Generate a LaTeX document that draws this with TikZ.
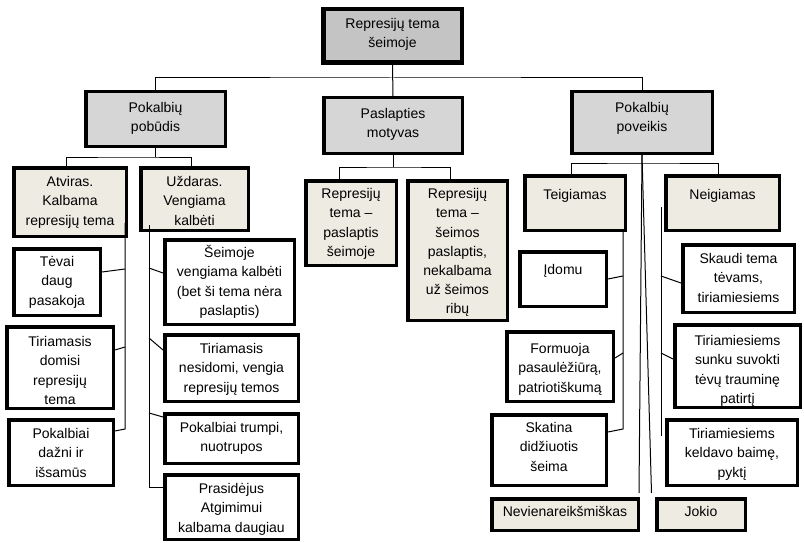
\documentclass[tikz,border=0pt]{standalone}
\usepackage{fontspec}
\setmainfont{Liberation Sans}
\definecolor{virsus}{HTML}{C4C4C4}
\definecolor{pilka}{HTML}{D6D6D6}
\definecolor{smelis}{HTML}{EEECE2}
\begin{document}
\begin{tikzpicture}[x=1pt,y=-1pt,
  kaste/.style={draw, line width=3.5pt, inner sep=0pt},
  tekstas/.style={align=center, inner sep=0pt, anchor=north, font=\fontsize{14}{19.2}\selectfont},
  jungtis/.style={line width=1pt}]
\useasboundingbox (0,0) rectangle (804,543);
% Top box of the tree
\node[kaste, line width=4.5pt, fill=virsus, minimum width=138.5, minimum height=53.5] (sakn) at (392.5,36) {};
\node[tekstas] (sakn-t) at ([yshift=-8pt]sakn.north) {\strut Represijų tema\\šeimoje};
% Second row, grey boxes
\foreach \n/\x/\y/\w/\h/\d/\t in {
  pobud/155.5/119/143/58/9/{Pokalbių\\pobūdis},
  paslap/393/125.5/142/59/9/{Paslapties\\motyvas},
  povei/642/122.5/144/65/9/{Pokalbių\\poveikis}}
{
  \node[kaste, fill=pilka, minimum width=\w-3.5, minimum height=\h-3.5] (\n) at (\x,\y) {};
  \node[tekstas] (\n-t) at ([yshift=-\d pt]\n.north) {\strut\t};
}
% Third row, light boxes
\foreach \n/\x/\y/\w/\h/\d/\t in {
  atv/70/202/116/72/7/{Atviras.\\Kalbama\\represijų tema},
  uzd/194.5/199/111/66/7/{Uždaras.\\Vengiama\\kalbėti},
  rep1/351/223/94/88/6/{Represijų\\tema --\\paslaptis\\šeimoje},
  rep2/457.5/250.5/103/143/6/{Represijų\\tema --\\šeimos\\paslaptis,\\nekalbama\\už šeimos\\ribų},
  teig/575/203/104/58/12/{Teigiamas},
  neig/722.5/203/117/58/12/{Neigiamas},
  nev/565/514.5/150/35/6/{Nevienareikšmiškas},
  jok/701/514.5/92/35/6/{Jokio}}
{
  \node[kaste, fill=smelis, minimum width=\w-3.5, minimum height=\h-3.5] (\n) at (\x,\y) {};
  \node[tekstas] (\n-t) at ([yshift=-\d pt]\n.north) {\strut\t};
}
% White boxes
\foreach \n/\x/\y/\w/\h/\d/\t in {
  tev/57/282/90/70/6/{Tėvai\\daug\\pasakoja},
  tirdom/60/367.5/110/85/8/{Tiriamasis\\domisi\\represijų\\tema},
  pokdaz/61/452.5/108/69/7/{Pokalbiai\\dažni ir\\išsamūs},
  seim/229.5/282/133/88/6/{Šeimoje\\vengiama kalbėti\\(bet ši tema nėra\\paslaptis)},
  tirnes/231.5/368/137/70/7/{Tiriamasis\\nesidomi, vengia\\represijų temos},
  poktr/231.5/438.5/137/53/7/{Pokalbiai trumpi,\\nuotrupos},
  pras/231.5/507/137/68/7/{Prasidėjus\\Atgimimui\\kalbama daugiau},
  idom/563/279/90/58/11/{Įdomu},
  form/560/366.5/110/73/10/{Formuoja\\pasaulėžiūrą,\\patriotiškumą},
  skat/549/450/118/74/6/{Skatina\\didžiuotis\\šeima},
  skau/738.5/278.5/115/71/7/{Skaudi tema\\tėvams,\\tiriamiesiems},
  sunk/737.5/366/129/86/9/{Tiriamiesiems\\sunku suvokti\\tėvų trauminę\\patirtį},
  keld/732/452.5/134/69/7/{Tiriamiesiems\\keldavo baimę,\\pyktį}}
{
  \node[kaste, fill=white, minimum width=\w-3.5, minimum height=\h-3.5] (\n) at (\x,\y) {};
  \node[tekstas] (\n-t) at ([yshift=-\d pt]\n.north) {\strut\t};
}
% Tree lines
\coordinate (b0) at (392,78);
\draw[jungtis] (sakn.south) -- (paslap.north);
\draw[jungtis] (pobud.north) |- (b0) -| (povei.north);
\coordinate (b1) at (128,157);
\draw[jungtis] (pobud.south) -- (pobud.south |- b1);
\draw[jungtis] ([xshift=-4pt]atv.north) |- (b1) -| ([xshift=-3.5pt]uzd.north);
\coordinate (b2) at (393,167);
\draw[jungtis] (paslap.south) -- (b2);
\draw[jungtis] ([xshift=-12pt]rep1.north) |- (b2) -| ([xshift=-7.5pt]rep2.north);
\coordinate (b3) at (642,163);
\draw[jungtis] ([xshift=-4pt]teig.north) |- (b3) -| ([xshift=-4.5pt]neig.north);
\draw[jungtis] (povei.south) -- ([xshift=-1pt,yshift=4pt]nev.north east);
\draw[jungtis] (povei.south) -- ([xshift=-3.5pt,yshift=4pt]jok.north west);
% Open talks column
\coordinate (a0) at (125,223);
\coordinate (a1) at (125,269);
\coordinate (a2) at (125,347);
\coordinate (a3) at (125,429);
\draw[jungtis] (a0) -- (a3) -- ([yshift=21.5pt]pokdaz.east);
\draw[jungtis] ([yshift=10pt]tev.east) -- (a1);
\draw[jungtis] ([yshift=17.5pt]tirdom.east) -- (a2);
% Closed talks column
\coordinate (u0) at (149,225);
\coordinate (u1) at (149,268);
\coordinate (u2) at (149,338);
\coordinate (u3) at (149,413);
\coordinate (u4) at (149,487);
\draw[jungtis] (u0) -- (u4) -- ([yshift=20pt]pras.west);
\draw[jungtis] (u1) -- ([yshift=9pt]seim.west);
\draw[jungtis] (u2) -- ([yshift=18pt]tirnes.west);
\draw[jungtis] (u3) -- ([yshift=21.5pt]poktr.west);
% Positive effect column
\coordinate (t0) at (623,231);
\coordinate (t1) at (623,276);
\coordinate (t2) at (623,353);
\coordinate (t3) at (623,429);
\draw[jungtis] (t0) -- (t3) -- ([yshift=18pt]skat.east);
\draw[jungtis] (idom.east) -- (t1);
\draw[jungtis] ([yshift=8.5pt]form.east) -- (t2);
% Negative effect column
\coordinate (n0) at (661,207);
\coordinate (n1) at (661,276);
\coordinate (n2) at (661,353);
\coordinate (n3) at (661,436);
\draw[jungtis] (n0) -- (n3);
\draw[jungtis] (n1) -- ([yshift=-4.5pt]skau.west);
\draw[jungtis] (n2) -- ([yshift=7pt]sunk.west);
\end{tikzpicture}
\end{document}
